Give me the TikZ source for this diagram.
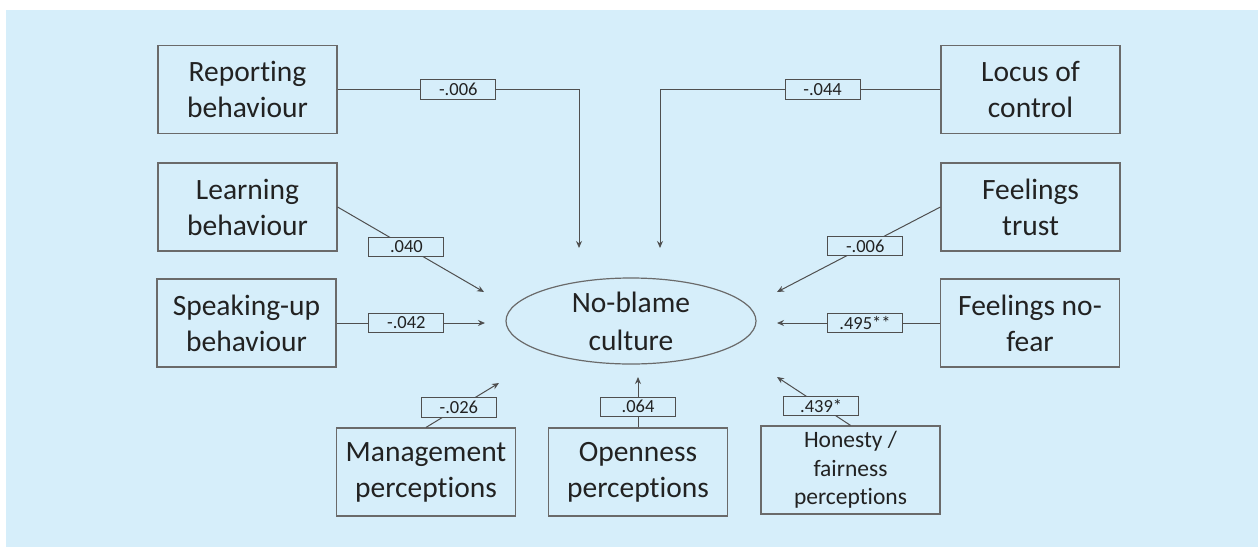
\documentclass[tikz,border=0pt]{standalone}
\usepackage{fontspec}
\setmainfont{Carlito}[Ligatures=NoCommon]
\usetikzlibrary{shapes.geometric,arrows.meta}
\definecolor{bgc}{HTML}{D6EEFA}
\definecolor{linec}{HTML}{4F4F4F}
\definecolor{boxc}{HTML}{6A6A6A}
\definecolor{txt}{HTML}{222222}
\tikzset{
  varbox/.style={draw=boxc, line width=1.2pt, minimum width=179pt, minimum height=88pt,
    inner sep=0pt, align=center, text=txt, font=\fontsize{29.5}{36}\selectfont},
  smallbox/.style={varbox, font=\fontsize{23.5}{28.5}\selectfont},
  oval/.style={draw=boxc, line width=1.2pt, ellipse, minimum width=250pt, minimum height=86pt,
    inner sep=0pt, align=center, text=txt, font=\fontsize{29.5}{38}\selectfont},
  conn/.style={draw=linec, line width=1pt, -{Stealth[length=7pt,width=6pt]}},
  lbl/.style={draw=linec, line width=0.9pt, fill=bgc, minimum width=75pt, minimum height=19.5pt,
    inner sep=0pt, text=txt, font=\fontsize{18.5}{20}\selectfont}
}
\begin{document}
\begin{tikzpicture}[x=1pt,y=-1pt]
\useasboundingbox (0,0) rectangle (1258,547);
\fill[white] (0,0) rectangle (1258,547);
\fill[bgc] (6,10) rectangle (1258,547);

\node[varbox] (rep) at (247.5,89.5) {Reporting\\behaviour};
\node[varbox] (lea) at (247.5,207) {Learning\\behaviour};
\node[varbox] (spk) at (246.5,323) {Speaking-up\\behaviour};
\node[varbox] (loc) at (1030.5,89.5) {Locus of\\control};
\node[varbox] (tru) at (1030.5,207) {Feelings\\trust};
\node[varbox] (fea) at (1030,323) {Feelings no-\\fear};
\node[varbox] (mgt) at (426,472) {Management\\perceptions};
\node[varbox] (opn) at (638,472) {Openness\\perceptions};
\node[smallbox] (hon) at (850.5,470) {Honesty /\\fairness\\perceptions};
\node[oval] (nbc) at (631,321) {No-blame\\culture};

\coordinate (tR) at (579,248);
\coordinate (tL) at (660,248);
\coordinate (tLB) at (484,292);
\coordinate (tSU) at (485,323);
\coordinate (tMG) at (499,383);
\coordinate (tOP) at (638,377);
\coordinate (tHO) at (777,377);
\coordinate (tNF) at (777,323);
\coordinate (tFT) at (777,292);

\draw[conn] (rep.east) -| node[lbl,pos=0.25] {-.006} (tR);
\draw[conn] (loc.west) -| node[lbl,pos=0.21] {-.044} (tL);
\draw[conn] (lea.east) -- node[lbl,pos=0.47] {.040} (tLB);
\draw[conn] (spk.east) -- node[lbl,pos=0.47] {-.042} (tSU);
\draw[conn] (mgt.north) -- node[lbl,pos=0.45] {-.026} (tMG);
\draw[conn] (opn.north) -- node[lbl,pos=0.41] {.064} (tOP);
\draw[conn] (hon.north) -- node[lbl,pos=0.4] {.439*} (tHO);
\draw[conn] (fea.west) -- node[lbl,pos=0.46] {.495**} (tNF);
\draw[conn] (tru.west) -- node[lbl,pos=0.46] {-.006} (tFT);
\end{tikzpicture}
\end{document}
